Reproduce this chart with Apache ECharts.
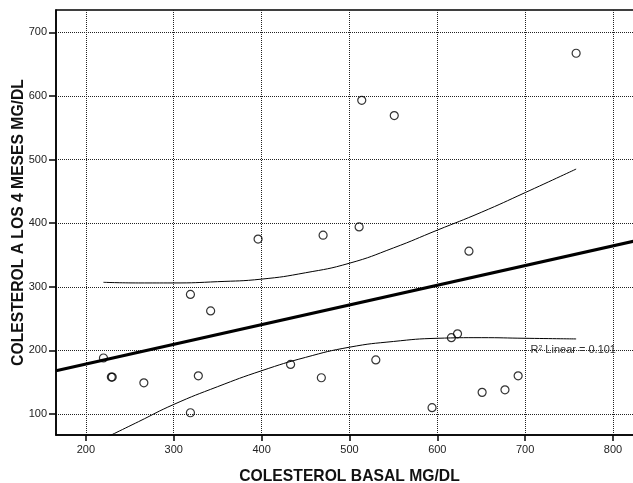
<!DOCTYPE html>
<html>
<head>
<meta charset="utf-8">
<script src="https://cdn.jsdelivr.net/npm/echarts@6/dist/echarts.min.js"></script>
<style>
  html, body { margin: 0; padding: 0; background: #fff; }
  #chart { width: 633px; height: 483px; }
</style>
</head>
<body>
<div id="chart"></div>
<script>
// 散点数据：基础胆固醇 / 4个月后胆固醇
const basal = [220, 229, 230, 266, 319, 319, 328, 342, 396, 433, 468, 470, 511, 514, 530, 551, 594, 616, 623, 636, 651, 677, 692, 758]
const meses4 = [188, 158, 158, 149, 288, 102, 160, 262, 375, 178, 157, 381, 394, 593, 185, 569, 110, 220, 226, 356, 134, 138, 160, 667]

// 拟合直线两端
const fitX = [166, 825]
const fitY = [168, 372]

// 置信区间上下曲线
const bandX = [220, 260, 300, 350, 400, 450, 500, 550, 600, 650, 700, 758]
const upperY = [307, 306, 306, 308, 312, 322, 337, 361, 389, 417, 448, 485]
const lowerY = [61, 88, 115, 143, 168, 189, 205, 214, 219, 220, 219, 218]

const xTicks = [200, 300, 400, 500, 600, 700, 800]
const yTicks = [100, 200, 300, 400, 500, 600, 700]

const r2Label = { x: 706, y: 200, text: '0.101' }

function initScatter() {
    var myChart = echarts.init(document.getElementById('chart'))
    var axisFont = { fontFamily: 'Liberation Sans', fontSize: 11, color: '#222' }
    var gridLine = { show: true, lineStyle: { color: '#222', type: [1, 1], width: 1 } }

    var option = {
        animation: false,
        backgroundColor: '#fff',
        grid: {
            left: 56, right: -2, top: 10, bottom: 48,
            containLabel: false, outerBoundsMode: 'none',
            show: true, borderColor: '#000', borderWidth: 1.5, backgroundColor: 'transparent'
        },
        xAxis: {
            type: 'value', min: 166, max: 825,
            name: 'COLESTEROL BASAL MG/DL',
            nameLocation: 'middle', nameGap: 34, nameMoveOverlap: false,
            nameTextStyle: { fontFamily: 'Liberation Sans', fontWeight: 'bold', fontSize: 15.7, color: '#111', padding: [0, 0, 0, 8] },
            axisLine: { show: true, onZero: false, lineStyle: { color: '#000', width: 1.5 } },
            axisTick: { show: true, length: 6, customValues: xTicks, lineStyle: { color: '#000', width: 1.5 } },
            axisLabel: Object.assign({ margin: 9, customValues: xTicks }, axisFont),
            splitLine: gridLine
        },
        yAxis: {
            type: 'value', min: 67, max: 735,
            name: 'COLESTEROL A LOS 4 MESES MG/DL',
            nameLocation: 'middle', nameGap: 29, nameMoveOverlap: false,
            nameTextStyle: { fontFamily: 'Liberation Sans', fontWeight: 'bold', fontSize: 15.7, color: '#111' },
            axisLine: { show: true, onZero: false, lineStyle: { color: '#000', width: 1.5 } },
            axisTick: { show: true, length: 7, customValues: yTicks, lineStyle: { color: '#000', width: 1.5 } },
            axisLabel: Object.assign({ margin: 9, customValues: yTicks }, axisFont),
            splitLine: gridLine
        },
        series: [
            {
                name: 'upper',
                type: 'line',
                data: bandX.map((x, i) => [x, upperY[i]]),
                showSymbol: false,
                smooth: true,
                lineStyle: { color: '#000', width: 1 },
                z: 3
            },
            {
                name: 'lower',
                type: 'line',
                data: bandX.map((x, i) => [x, lowerY[i]]),
                showSymbol: false,
                smooth: true,
                lineStyle: { color: '#000', width: 1 },
                z: 3
            },
            {
                name: 'fit',
                type: 'line',
                data: fitX.map((x, i) => [x, fitY[i]]),
                showSymbol: false,
                lineStyle: { color: '#000', width: 3 },
                z: 4,
                markPoint: {
                    symbol: 'circle', symbolSize: 0,
                    data: [{ coord: [r2Label.x, r2Label.y] }],
                    label: {
                        show: true, position: 'right', distance: 0,
                        formatter: 'R{sup|2} Linear = ' + r2Label.text,
                        fontFamily: 'Liberation Sans', fontSize: 11, color: '#333',
                        rich: { sup: { fontSize: 7, verticalAlign: 'top', padding: [0, 0, 5, 0], color: '#333' } }
                    }
                }
            },
            {
                name: 'points',
                type: 'scatter',
                data: basal.map((x, i) => [x, meses4[i]]),
                symbol: 'circle',
                symbolSize: 8,
                itemStyle: { color: 'rgba(0,0,0,0)', borderColor: '#000', borderWidth: 1.2 },
                z: 5
            }
        ]
    }

    option && myChart.setOption(option)
}

initScatter()
</script>
</body>
</html>
